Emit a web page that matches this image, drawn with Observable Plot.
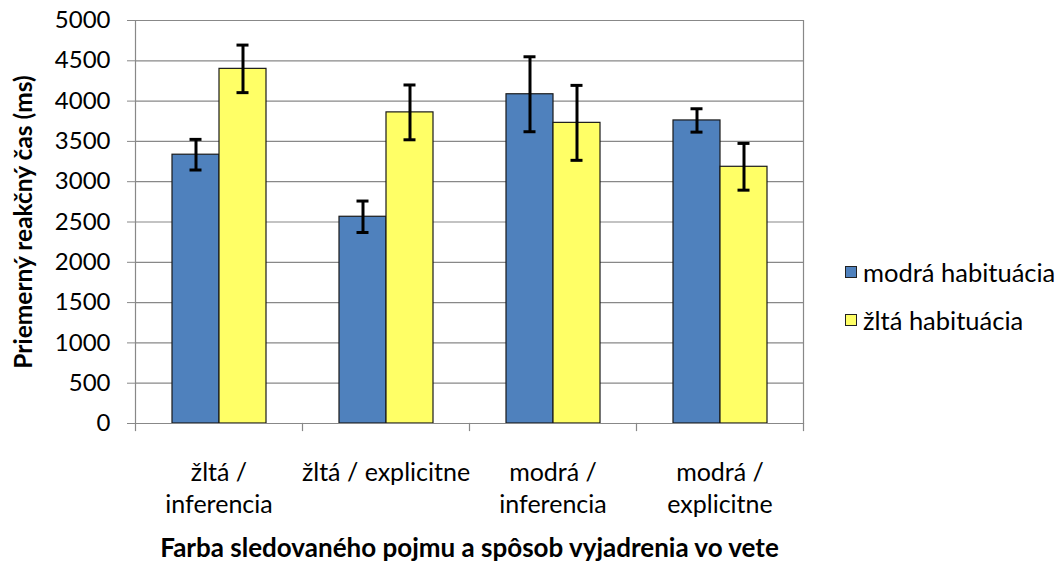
<!DOCTYPE html>
<html>
<head>
<meta charset="utf-8">
<script src="https://cdn.jsdelivr.net/npm/d3@7"></script>
<script src="https://cdn.jsdelivr.net/npm/@observablehq/plot@0.6"></script>
<style>
  html, body { margin: 0; padding: 0; background: #fff; }
  #wrap { position: relative; width: 1064px; height: 565px; font-family: Lato, "Open Sans", sans-serif; }
  #legend { position: absolute; left: 845px; top: 256px; font-size: 25.5px; color: #000; }
  .row { display: flex; align-items: center; height: 32px; margin-bottom: 16px; white-space: nowrap; }
  .sw { width: 10px; height: 10px; border: 1px solid #222; margin-right: 6px; flex: none; }
</style>
</head>
<body>
<div id="wrap"><div id="legend"></div></div>
<script>
// ---- data ----
const categories = ["žltá / inferencia", "žltá / explicitne", "modrá / inferencia", "modrá / explicitne"];
const categoryLabels = ["žltá /\ninferencia", "žltá / explicitne", "modrá /\ninferencia", "modrá /\nexplicitne"];
const series = ["modrá habituácia", "žltá habituácia"];
const blueMeans = [3335, 2565, 4085, 3760];
const blueErrors = [190, 195, 465, 145];
const yellowMeans = [4400, 3860, 3730, 3185];
const yellowErrors = [295, 340, 465, 290];
const yTicks = [0, 500, 1000, 1500, 2000, 2500, 3000, 3500, 4000, 4500, 5000];
const colors = ["#4F81BD", "#FFFF66"];
const yTitle = "Priemerný reakčný čas (ms)";
const xTitle = "Farba sledovaného pojmu a spôsob vyjadrenia vo vete";

const rows = [];
categories.forEach((c, i) => {
  rows.push({cat: c, series: series[0], value: blueMeans[i], err: blueErrors[i]});
  rows.push({cat: c, series: series[1], value: yellowMeans[i], err: yellowErrors[i]});
});
const labelOf = new Map(categories.map((c, i) => [c, categoryLabels[i]]));

const font = "Lato, 'Open Sans', sans-serif";
const chart = Plot.plot({
  width: 1064,
  height: 565,
  marginLeft: 135,
  marginRight: 261,
  marginTop: 20,
  marginBottom: 142,
  style: {fontFamily: font, fontSize: "24px", color: "#000", background: "#fff"},
  fx: {domain: categories, padding: 0, label: null},
  x: {domain: series, paddingInner: 0, paddingOuter: 0.758, axis: null},
  y: {domain: [0, 5000], label: null},
  color: {domain: series, range: colors},
  marks: [
    Plot.gridY(yTicks, {stroke: "#888", strokeOpacity: 1, strokeWidth: 1.2}),
    Plot.frame({facet: "super", anchor: "left", stroke: "#888", strokeWidth: 1.2}),
    Plot.frame({facet: "super", anchor: "right", stroke: "#888", strokeWidth: 1.2}),
    Plot.frame({anchor: "left", stroke: "#888", strokeWidth: 1.2, insetTop: 403, insetBottom: -7}),
    Plot.frame({facet: "super", anchor: "right", stroke: "#888", strokeWidth: 1.2, insetTop: 403, insetBottom: -7}),
    Plot.axisY(yTicks, {tickSize: 8, tickPadding: 17, stroke: "#888", fontSize: 24, label: null, tickFormat: d => String(d)}),
    Plot.axisFx({anchor: "bottom", tickSize: 0, tickPadding: 34, label: null, lineHeight: 1.3, fontSize: 25, tickFormat: d => labelOf.get(d)}),
    Plot.barY(rows, {fx: "cat", x: "series", y: "value", fill: "series", stroke: "#1a1a1a", strokeWidth: 1.2}),
    Plot.ruleY([0], {stroke: "#888", strokeWidth: 1.2}),
    Plot.ruleX(rows, {fx: "cat", x: "series", y1: d => d.value - d.err, y2: d => d.value + d.err, stroke: "#000", strokeWidth: 3}),
    Plot.tickY(rows, {fx: "cat", x: "series", y: d => d.value + d.err, stroke: "#000", strokeWidth: 3, insetLeft: 17.5, insetRight: 17.5}),
    Plot.tickY(rows, {fx: "cat", x: "series", y: d => d.value - d.err, stroke: "#000", strokeWidth: 3, insetLeft: 17.5, insetRight: 17.5}),
    Plot.text([yTitle], {facet: "super", frameAnchor: "left", dx: -111, rotate: -90, textAnchor: "middle", lineAnchor: "middle", fontWeight: "bold", fontSize: 24.5, fill: "#000"}),
    Plot.text([xTitle], {facet: "super", frameAnchor: "bottom", dy: 125, lineAnchor: "middle", fontWeight: "bold", fontSize: 26, fill: "#000"})
  ]
});
document.getElementById("wrap").prepend(chart);

const legend = document.getElementById("legend");
series.forEach((s, i) => {
  const row = document.createElement("div");
  row.className = "row";
  const sw = document.createElement("span");
  sw.className = "sw";
  sw.style.background = colors[i];
  const t = document.createElement("span");
  t.textContent = s;
  row.append(sw, t);
  legend.append(row);
});
</script>
</body>
</html>
